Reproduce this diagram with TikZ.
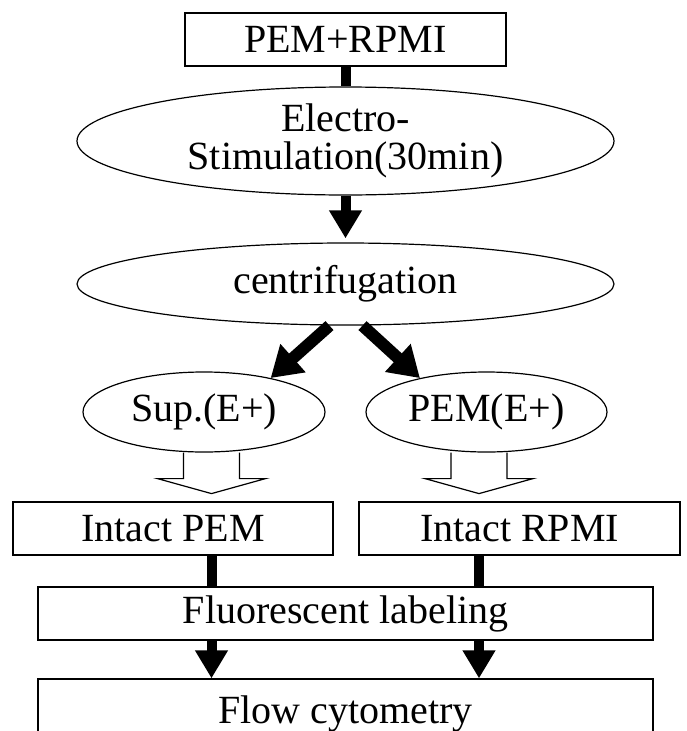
\documentclass[tikz,border=0pt]{standalone}
\usepackage{fontspec}
\setmainfont{Liberation Serif}
\usetikzlibrary{arrows.meta, positioning, calc, shapes.geometric}

% open (outlined) arrow, top centre at #1
\newcommand{\hollowarrow}[1]{%
  \draw[line width=1.2pt] ($#1+(-28,0)$) -- ++(0,26) -- ++(-26,0) -- ++(54,15) -- ++(54,-15) -- ++(-26,0) -- ++(0,-26);}

\begin{document}
\begin{tikzpicture}[x=1pt, y=-1pt,
  txt/.style={font=\fontsize{40pt}{38pt}\selectfont, inner sep=0pt},
  rbox/.style={txt, draw, line width=1.2pt, minimum height=53pt},
  oval/.style={txt, draw, ellipse, line width=1.2pt, align=center},
  bar/.style={line width=10pt},
  barrow/.style={line width=10pt, -{Triangle[length=28pt, width=31pt]}},
  fatarrow/.style={line width=12pt, -{Triangle[length=30pt, width=36pt]}}]
  \path[use as bounding box, clip] (0,0) rectangle (686,731);

  \node[rbox, minimum width=321pt] (mix) at (345.5,39.5) {PEM+RPMI};
  \node[oval, minimum width=537pt, minimum height=108pt] (stim) at (345.5,141) {Electro-\\Stimulation(30min)};
  \node[oval, minimum width=537pt, minimum height=82pt] (cen) at (345.5,284) {centrifugation};
  \node[oval, minimum width=242pt, minimum height=80pt] (sup) at (204,412) {Sup.(E+)};
  \node[oval, minimum width=241pt, minimum height=80pt] (pem) at (486.5,412) {PEM(E+)};
  \node[rbox, minimum width=320pt] (ipem) at (173,528.5) {Intact PEM};
  \node[rbox, minimum width=321pt] (irpmi) at (519.5,528.5) {Intact RPMI};
  \node[rbox, minimum width=615pt] (fluo) at (345.5,613.5) {Fluorescent labeling};
  \node[rbox, minimum width=615pt, minimum height=70pt] (flow) at (345.5,714) {Flow cytometry};

  \coordinate (cl) at (211.5,0);
  \coordinate (cr) at (479,0);

  \draw[bar] (mix.south) -- (stim.north);
  \draw[barrow, shorten >=4pt] (stim.south) -- (cen.north);
  \draw[fatarrow] ([xshift=-16pt]cen.south) -- (sup.27);
  \draw[fatarrow] ([xshift=17pt]cen.south) -- (pem.153);

  \hollowarrow{(sup.south -| cl)}
  \hollowarrow{(pem.south -| cr)}

  \draw[bar] (ipem.south -| cl) -- (fluo.north -| cl);
  \draw[bar] (irpmi.south -| cr) -- (fluo.north -| cr);
  \draw[barrow] (fluo.south -| cl) -- (flow.north -| cl);
  \draw[barrow] (fluo.south -| cr) -- (flow.north -| cr);
\end{tikzpicture}
\end{document}
